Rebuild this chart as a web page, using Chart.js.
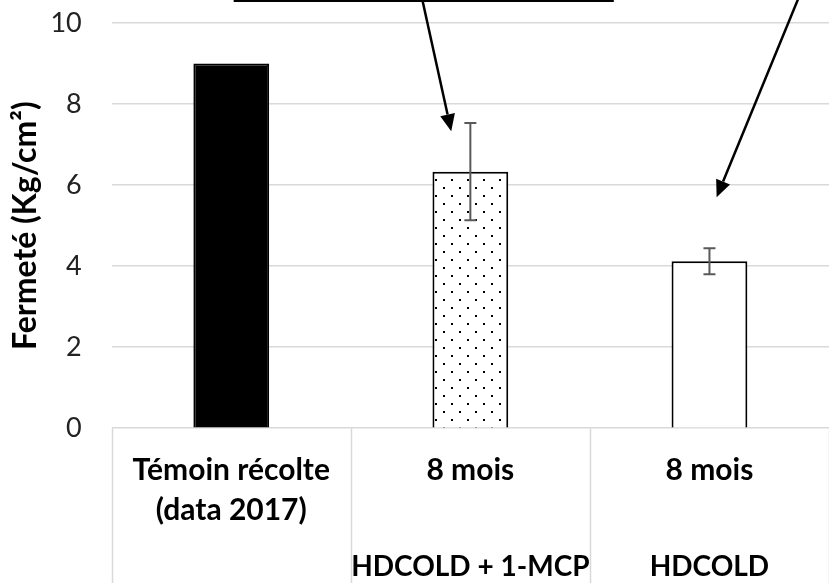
<!DOCTYPE html>
<html>
<head>
<meta charset="utf-8">
<script src="https://cdn.jsdelivr.net/npm/chart.js@4.4.1/dist/chart.umd.min.js"></script>
<style>
  html, body { margin: 0; padding: 0; background: #fff; }
  #wrap { width: 829px; height: 583px; position: relative; }
</style>
</head>
<body>
<div id="wrap"><canvas id="chart"></canvas></div>
<script>
'use strict';

// ── Data ────────────────────────────────────────────────────────────────
const categories  = [['Témoin récolte', '(data 2017)'], '8 mois', '8 mois'];
const treatments  = ['', 'HDCOLD + 1-MCP', 'HDCOLD'];
const firmness    = [9.0, 6.33, 4.12];
const firmnessErr = [0, 1.2, 0.32];
const yTicks      = [0, 2, 4, 6, 8, 10];

// callout box edge + arrows, in (category index, value) space
const calloutEdge = [[0.01, 10.55], [1.6, 10.55]];
const arrows = [
  [[0.80, 10.55], [0.92, 7.33]],
  [[2.37, 10.58], [2.03, 5.70]],
];

// ── Styles ──────────────────────────────────────────────────────────────
const FONT   = 'Lato, "Open Sans", sans-serif';
const GRID   = '#d9d9d9';
const NONE   = 'rgba(0,0,0,0)';

Chart.defaults.font.family = FONT;

function dotPattern() {
  const c = document.createElement('canvas');
  c.width = 16; c.height = 16;
  const g = c.getContext('2d');
  g.fillStyle = '#fff';
  g.fillRect(0, 0, 16, 16);
  g.fillStyle = '#000';
  g.fillRect(3, 3, 2, 2);
  g.fillRect(11, 11, 2, 2);
  return g.createPattern(c, 'repeat');
}

// ── Plugins ─────────────────────────────────────────────────────────────
const errorBars = {
  id: 'errorBars',
  afterDatasetsDraw(chart) {
    const { ctx, scales: { x, y } } = chart;
    ctx.save();
    ctx.strokeStyle = '#595959';
    ctx.lineWidth = 2;
    firmnessErr.forEach((e, i) => {
      if (!e) return;
      const cx  = x.getPixelForValue(i);
      const top = y.getPixelForValue(firmness[i] + e);
      const bot = y.getPixelForValue(firmness[i] - e);
      ctx.beginPath();
      ctx.moveTo(cx, top);     ctx.lineTo(cx, bot);
      ctx.moveTo(cx - 6, top); ctx.lineTo(cx + 6, top);
      ctx.moveTo(cx - 6, bot); ctx.lineTo(cx + 6, bot);
      ctx.stroke();
    });
    ctx.restore();
  },
};

const categoryDividers = {
  id: 'categoryDividers',
  afterDraw(chart) {
    const { ctx, chartArea, scales: { x } } = chart;
    ctx.save();
    ctx.strokeStyle = GRID;
    ctx.lineWidth = 1.5;
    for (let i = 0; i <= categories.length; i++) {
      const px = Math.round(x.getPixelForValue(i - 0.5)) + 0.5;
      ctx.beginPath();
      ctx.moveTo(px, chartArea.bottom);
      ctx.lineTo(px, chart.height);
      ctx.stroke();
    }
    ctx.restore();
  },
};

const callouts = {
  id: 'callouts',
  afterDraw(chart) {
    const { ctx, scales: { x, y } } = chart;
    const pt = ([i, v]) => [x.getPixelForValue(i), y.getPixelForValue(v)];
    ctx.save();
    ctx.strokeStyle = '#000';
    ctx.fillStyle = '#000';
    ctx.lineWidth = 2.5;

    const [a, b] = calloutEdge.map(pt);
    ctx.beginPath();
    ctx.moveTo(a[0], a[1]);
    ctx.lineTo(b[0], b[1]);
    ctx.stroke();

    arrows.forEach(([from, to]) => {
      const [x0, y0] = pt(from);
      const [x1, y1] = pt(to);
      const ang = Math.atan2(y1 - y0, x1 - x0);
      const len = 17, half = 7.5;
      const bx = x1 - len * Math.cos(ang), by = y1 - len * Math.sin(ang);
      ctx.beginPath();
      ctx.moveTo(x0, y0);
      ctx.lineTo(bx, by);
      ctx.stroke();
      ctx.beginPath();
      ctx.moveTo(x1, y1);
      ctx.lineTo(bx + half * Math.sin(ang), by - half * Math.cos(ang));
      ctx.lineTo(bx - half * Math.sin(ang), by + half * Math.cos(ang));
      ctx.closePath();
      ctx.fill();
    });
    ctx.restore();
  },
};

// ── Chart ───────────────────────────────────────────────────────────────
const ctx = document.getElementById('chart').getContext('2d');

new Chart(ctx, {
  type: 'bar',
  data: {
    labels: categories,
    datasets: [{
      data: firmness,
      backgroundColor: ['#000', dotPattern(), '#fff'],
      borderColor: '#000',
      borderWidth: 2,
      barPercentage: 0.317,
      categoryPercentage: 1,
    }],
  },
  options: {
    responsive: true,
    maintainAspectRatio: false,
    animation: false,
    layout: { padding: { top: 23, left: 6, right: -3, bottom: 1 } },
    plugins: {
      legend: { display: false },
      tooltip: { enabled: false },
    },
    scales: {
      x: {
        offset: true,
        border: { display: false },
        grid: { drawOnChartArea: false, offset: true, tickLength: 22, tickColor: NONE },
        ticks: {
          padding: 0,
          autoSkip: false,
          maxRotation: 0,
          color: '#000',
          font: { size: 30, weight: 'bold', lineHeight: 1.33 },
        },
      },
      x2: {
        type: 'category',
        labels: treatments,
        position: 'bottom',
        offset: true,
        border: { display: false },
        grid: { drawOnChartArea: false, offset: true, tickLength: 22, tickColor: NONE },
        ticks: {
          padding: 0,
          autoSkip: false,
          maxRotation: 0,
          color: '#000',
          font: { size: 28, weight: 'bold', lineHeight: 1.07 },
        },
      },
      y: {
        min: 0,
        max: 10,
        afterBuildTicks: (scale) => { scale.ticks = yTicks.map(v => ({ value: v })); },
        border: { display: false },
        grid: { color: GRID, lineWidth: 1.5, tickLength: 30, tickColor: NONE },
        ticks: {
          padding: 0,
          color: '#222',
          font: { size: 27 },
        },
        title: {
          display: true,
          text: 'Fermeté (Kg/cm²)',
          color: '#000',
          font: { size: 32, weight: 'bold', lineHeight: 1.2 },
          padding: { top: 0, bottom: 6 },
        },
      },
    },
  },
  plugins: [errorBars, categoryDividers, callouts],
});
</script>
</body>
</html>
